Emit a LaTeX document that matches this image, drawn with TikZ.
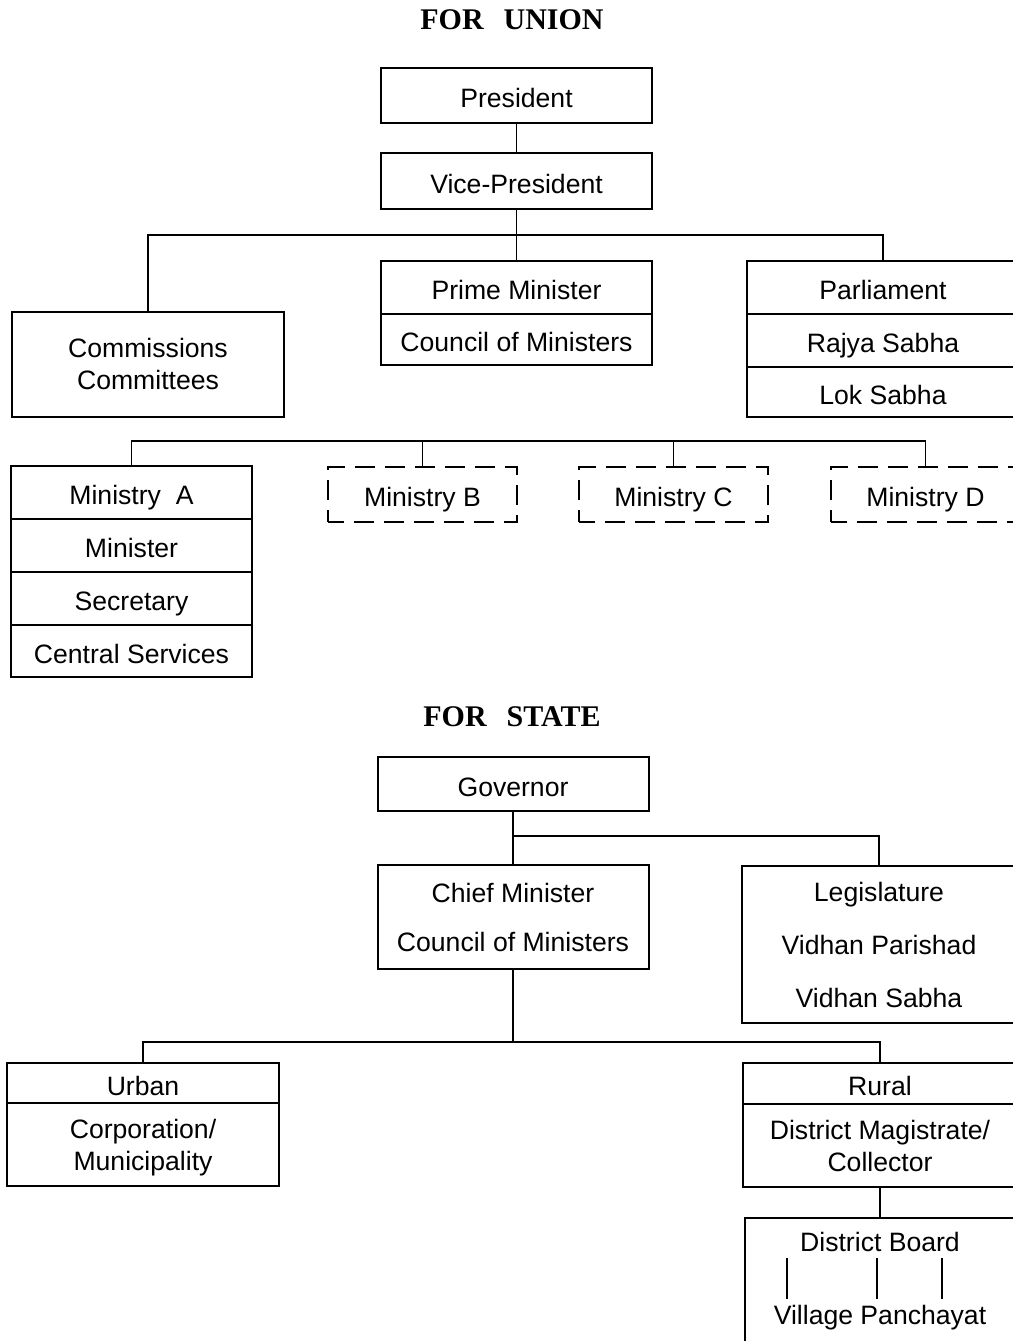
\documentclass[tikz,border=0pt]{standalone}
\usepackage{fontspec}
\setmainfont{Liberation Sans}
\newfontfamily\titlefont{Liberation Serif}
\usepackage{tikz}
\usetikzlibrary{positioning}
\tikzstyle{box} = [rectangle, draw, line width=1pt, outer sep=0pt, inner sep=2pt, minimum width=135.5pt, minimum height=26.5pt, align=center, font=\fontsize{13.3}{16}\selectfont]
\tikzstyle{cell} = [box, text height=12pt, text depth=0pt]
\tikzstyle{dashcell} = [cell, dash pattern=on 10pt off 5pt, dash phase=2pt, minimum width=94.5pt, minimum height=27.5pt]
\tikzstyle{heading} = [font=\titlefont\bfseries\fontsize{15}{18}\selectfont]
\tikzstyle{plain} = [inner sep=3pt, font=\fontsize{13.3}{16}\selectfont]
\tikzstyle{link} = [line width=0.8pt]

\begin{document}
\begin{tikzpicture}[x=0.5pt, y=-0.5pt]
\useasboundingbox (0,0) rectangle (1013,1341);
\clip (0,0) rectangle (1013,1341);

% union
\node (union)    [heading] at (512,20)       {FOR\hspace{10pt}UNION};
\node (pres)     [cell, minimum height=27.5pt] at (516.5,95.5) {President};
\node (vp)       [cell, minimum height=28pt] at (516.5,181) {Vice-President};
\node (comm)     [box, minimum width=136pt, minimum height=52.5pt] at (148,364) {Commissions\\Committees};
\node (pm)       [cell] at (516.5,287.5)     {Prime Minister};
\node (council)  [cell, below=0pt of pm, minimum height=25.5pt] {Council of Ministers};
\node (parl)     [cell, minimum width=136pt] at (883,287.5) {Parliament};
\node (rajya)    [cell, below=0pt of parl, minimum width=136pt] {Rajya Sabha};
\node (lok)      [cell, below=0pt of rajya, minimum width=136pt, minimum height=25pt] {Lok Sabha};
\node (mina)     [cell, minimum width=120.5pt] at (131.5,492.5) {Ministry\ \ A};
\node (minister) [cell, below=0pt of mina, minimum width=120.5pt] {Minister};
\node (secy)     [cell, below=0pt of minister, minimum width=120.5pt] {Secretary};
\node (central)  [cell, below=0pt of secy, minimum width=120.5pt, minimum height=26pt] {Central Services};
\node (minb)     [dashcell] at (422.5,494.5) {Ministry B};
\node (minc)     [dashcell] at (673.5,494.5) {Ministry C};
\node (mind)     [dashcell] at (925.5,494.5) {Ministry D};

\coordinate (ubus) at (516.5,235);
\coordinate (mbus) at (528,441);
\draw [link] (pres) -- (vp);
\draw [link] (vp) -- (pm);
\draw [link] (comm.north) |- (ubus) -| (parl.north);
\draw [link] (mina.north) |- (mbus) -| (mind.north);
\draw [link] (minb.north) -- (minb.north |- mbus);
\draw [link] (minc.north) -- (minc.north |- mbus);

% state
\node (state)    [heading] at (512,717)      {FOR\hspace{10pt}STATE};
\node (gov)      [cell, minimum height=27pt] at (513,784) {Governor};
\node (chief)    [box, minimum height=52pt] at (513,917) {Chief Minister\\[8.5pt]Council of Ministers};
\node (legis)    [box, minimum width=137pt, minimum height=78.5pt] at (879,944.5) {Legislature\\[10.5pt]Vidhan Parishad\\[10.5pt]Vidhan Sabha};
\node (urban)    [cell, minimum width=136pt, minimum height=20pt] at (143,1083) {Urban};
\node (corp)     [box, below=0pt of urban, minimum width=136pt, minimum height=41.5pt, text depth=0pt] {Corporation/\\Municipality};
\node (rural)    [cell, minimum width=137pt, minimum height=20.5pt] at (880,1083.5) {Rural};
\node (dm)       [box, below=0pt of rural, minimum width=137pt, minimum height=41.5pt] {District Magistrate/\\Collector};
\node (dboard)   [box, minimum width=135pt, minimum height=72pt] at (880,1290) {};
\node (dbt)      [plain] at (880,1242)       {District Board};
\node (vpan)     [plain] at (880,1318)       {Village Panchayat};

\coordinate (gbus) at (513,836);
\coordinate (sbus) at (513,1042);
\draw [link] (gov) -- (chief);
\draw [link] (gbus) -| (legis.north);
\draw [link] (chief) -- (sbus);
\draw [link] (urban.north) |- (sbus) -| (rural.north);
\draw [link] (dm) -- (dboard);
\foreach \x in {787,877,942}
  \draw [link] (\x,0 |- dbt.south) -- (\x,0 |- vpan.north);

\end{tikzpicture}
\end{document}
